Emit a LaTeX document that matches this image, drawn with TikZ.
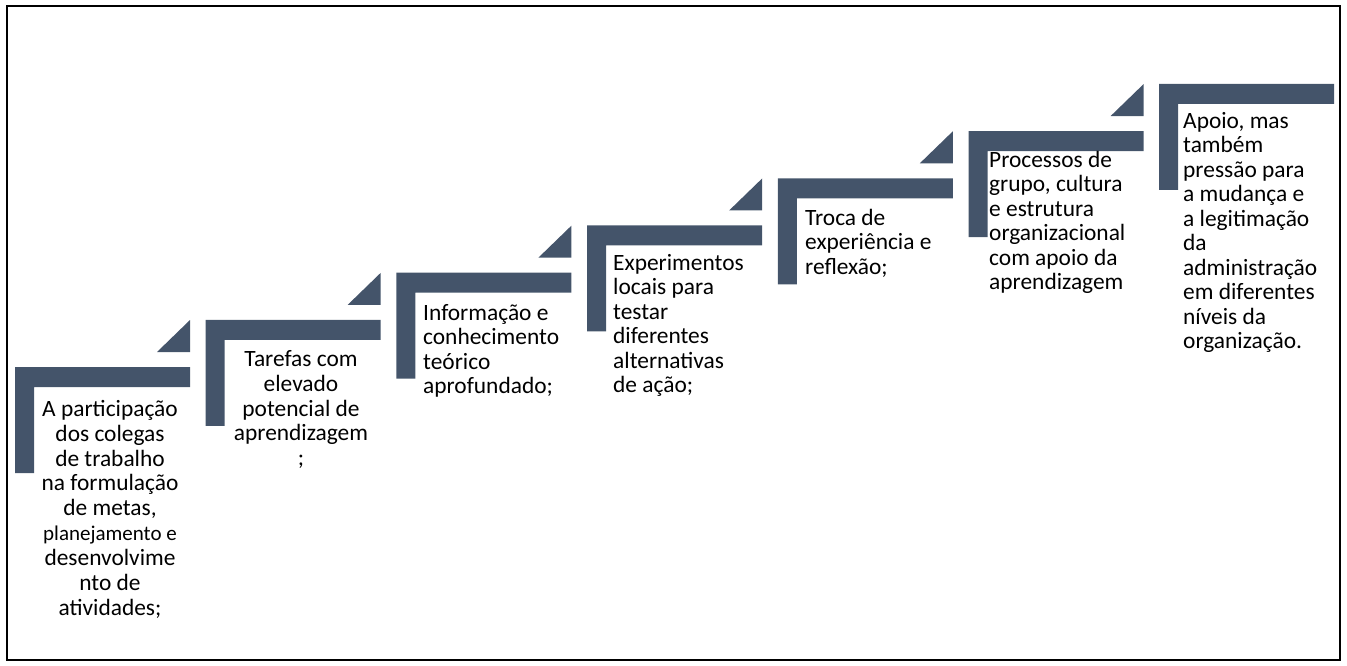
\documentclass[tikz,border=0pt]{standalone}
\usepackage{fontspec}
\setmainfont{Carlito}
\definecolor{stepblue}{RGB}{68,84,106}
\begin{document}
\begin{tikzpicture}[x=1pt,y=-1pt,
  stepfill/.style={fill=stepblue,draw=none},
  frameline/.style={draw=black,line width=2pt},
  lbl/.style={font=\fontsize{23.4}{24.5}\selectfont,inner sep=0pt,anchor=north west,align=left,text=black},
  clbl/.style={font=\fontsize{23.4}{24.9}\selectfont,inner sep=0pt,anchor=north,align=center,text=black}]
\useasboundingbox (0,0) rectangle (1347,665);
\draw[frameline] (7,6) rectangle (1340,660);

% seven L-shaped steps rising to the right, each with a corner wedge above it
\foreach \i in {0,...,6}{
  \pgfmathsetmacro{\L}{15+190.7*\i}
  \pgfmathsetmacro{\T}{367-47.17*\i}
  \fill[stepfill] (\L,\T) -- (\L+175,\T) -- (\L+175,\T+20) -- (\L+19,\T+20)
        -- (\L+19,\T+106) -- (\L,\T+106) -- cycle;
  \ifnum\i<6
    \fill[stepfill] (\L+175,\T-47) -- (\L+175,\T-15) -- (\L+142,\T-15) -- cycle;
  \fi
}

\node[clbl] (s1) at (110,398) {\rule{0pt}{18pt}A participação\\dos colegas\\de trabalho\\na formulação\\de metas,\\{\fontsize{21}{24.9}\selectfont planejamento e}\\desenvolvime\\nto de\\atividades;};
\node[clbl] (s2) at (301,348) {\rule{0pt}{18pt}Tarefas com\\elevado\\potencial de\\aprendizagem\\;};
\node[lbl] (s3) at (423,302) {\rule{0pt}{18pt}Informação e\\conhecimento\\teórico\\aprofundado;};
\node[lbl] (s4) at (613,252) {\rule{0pt}{18pt}Experimentos\\locais para\\testar\\diferentes\\alternativas\\de ação;};
\node[lbl] (s5) at (805,207) {\rule{0pt}{18pt}Troca de\\experiência e\\reflexão;};
\node[lbl] (s6) at (989,149) {\rule{0pt}{18pt}Processos de\\grupo, cultura\\e estrutura\\organizacional\\com apoio da\\aprendizagem};
\node[lbl] (s7) at (1183,110) {\rule{0pt}{18pt}Apoio, mas\\também\\pressão para\\a mudança e\\a legitimação\\da\\administração\\em diferentes\\níveis da\\organização.};
\end{tikzpicture}
\end{document}
